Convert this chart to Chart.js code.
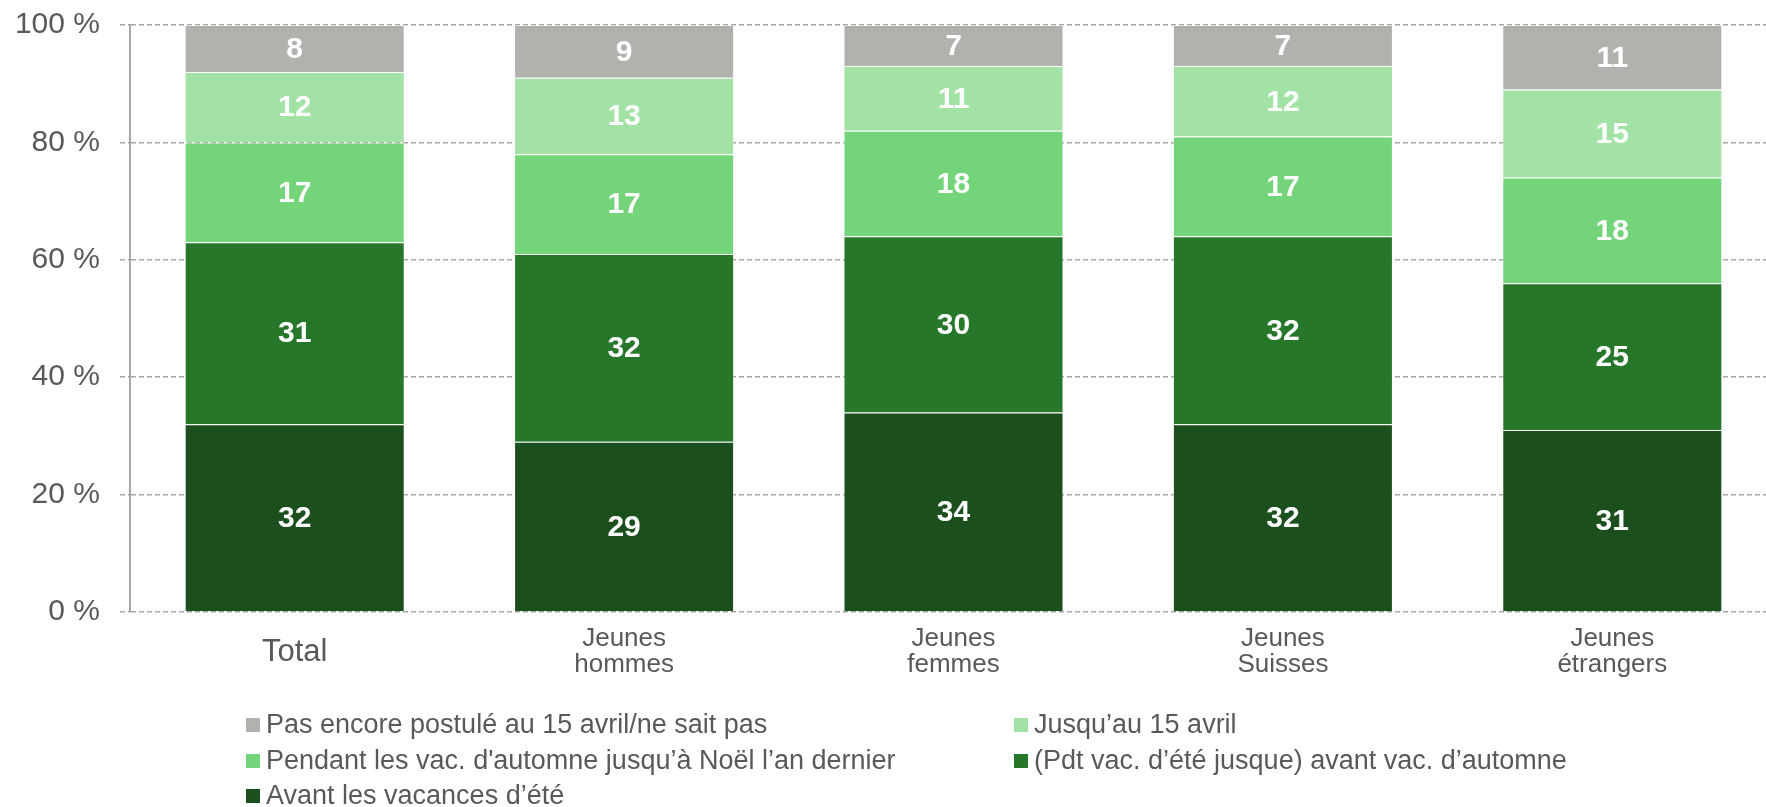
<!DOCTYPE html>
<html lang="fr">
<head>
<meta charset="utf-8">
<title>Moment de la postulation</title>
<script src="https://cdn.jsdelivr.net/npm/chart.js@4/dist/chart.umd.min.js"></script>
<style>
  html, body { margin: 0; padding: 0; background: #fff; overflow: hidden; }
  #wrap { width: 1766px; height: 807px; overflow: hidden; }
  canvas { display: block; }
</style>
</head>
<body>
<div id="wrap"><canvas id="chart" width="1777" height="807"></canvas></div>
<script>
// Catégories (axe X)
const categories = ['Total', ['Jeunes', 'hommes'], ['Jeunes', 'femmes'], ['Jeunes', 'Suisses'], ['Jeunes', 'étrangers']];

// Valeurs en %, du bas vers le haut de la pile
const avantEte = [32, 29, 34, 32, 31];
const avantAutomne = [31, 32, 30, 32, 25];
const automneNoel = [17, 17, 18, 17, 18];
const jusqu15Avril = [12, 13, 11, 12, 15];
const pasEncore = [8, 9, 7, 7, 11];

const seriesNames = [
    'Avant les vacances d’été',
    '(Pdt vac. d’été jusque) avant vac. d’automne',
    "Pendant les vac. d'automne jusqu’à Noël l’an dernier",
    'Jusqu’au 15 avril',
    'Pas encore postulé au 15 avril/ne sait pas'
];
const seriesColors = ['#1c4f1e', '#27772b', '#74d47a', '#a2e2a5', '#b1b2ad'];
const yTicks = [0, 20, 40, 60, 80, 100];

const FONT = "'Liberation Sans', Arial, sans-serif";
const TEXT = '#595959';

// Valeurs au centre de chaque segment
const valueLabels = {
    id: 'valueLabels',
    afterDatasetsDraw(chart) {
        const ctx = chart.ctx;
        ctx.save();
        ctx.fillStyle = '#fff';
        ctx.font = 'bold 30px ' + FONT;
        ctx.textAlign = 'center';
        ctx.textBaseline = 'middle';
        chart.data.datasets.forEach((ds, i) => {
            chart.getDatasetMeta(i).data.forEach((bar, j) => {
                ctx.fillText(ds.data[j], bar.x, (bar.y + bar.base) / 2 + 1);
            });
        });
        ctx.restore();
    }
};

// Légende en deux colonnes sous le graphique
const gridLegend = {
    id: 'gridLegend',
    afterDraw(chart) {
        const ctx = chart.ctx;
        const order = [4, 3, 2, 1, 0];
        const colX = [246, 1014];
        const rowY = [725, 761, 796];
        ctx.save();
        ctx.textBaseline = 'middle';
        ctx.textAlign = 'left';
        ctx.font = '27px ' + FONT;
        order.forEach((dsIndex, k) => {
            const ds = chart.data.datasets[dsIndex];
            const x = colX[k % 2];
            const y = rowY[Math.floor(k / 2)];
            ctx.fillStyle = ds.backgroundColor;
            ctx.fillRect(x, y - 7, 14, 14);
            ctx.fillStyle = TEXT;
            ctx.fillText(ds.label, x + 20, y + 1);
        });
        ctx.restore();
    }
};

const datasets = [avantEte, avantAutomne, automneNoel, jusqu15Avril, pasEncore].map((values, i) => ({
    label: seriesNames[i],
    data: values,
    backgroundColor: seriesColors[i],
    borderColor: 'rgba(255,255,255,0.35)',
    borderWidth: 1,
    barPercentage: 0.668,
    categoryPercentage: 1
}));

new Chart(document.getElementById('chart'), {
    type: 'bar',
    data: { labels: categories, datasets: datasets },
    options: {
        responsive: false,
        animation: false,
        layout: { padding: { left: 0, right: 0, top: 25, bottom: 105 } },
        plugins: {
            legend: { display: false },
            tooltip: { enabled: false }
        },
        scales: {
            x: {
                stacked: true,
                grid: { display: false },
                border: { display: false },
                afterFit: scale => { scale.height = 90; },
                ticks: {
                    color: TEXT,
                    padding: 19,
                    crossAlign: 'center',
                    font: ctx => ctx.index === 0
                        ? { family: FONT, size: 31, lineHeight: 0.8 }
                        : { family: FONT, size: 26, lineHeight: 1 }
                }
            },
            y: {
                stacked: true,
                min: 0,
                max: 100,
                afterFit: scale => {
                    scale.width = 130;
                    scale.paddingTop = 0;
                    scale.paddingBottom = 0;
                },
                afterBuildTicks: scale => { scale.ticks = yTicks.map(v => ({ value: v })); },
                grid: {
                    color: '#a6a6a6',
                    lineWidth: 1.5,
                    tickLength: 10,
                    tickBorderDash: [5, 3]
                },
                border: { display: true, color: '#a6a6a6', width: 2, dash: [5, 3] },
                ticks: {
                    color: TEXT,
                    padding: 20,
                    font: { family: FONT, size: 30 },
                    callback: v => v + ' %'
                }
            }
        }
    },
    plugins: [valueLabels, gridLegend]
});
</script>
</body>
</html>
